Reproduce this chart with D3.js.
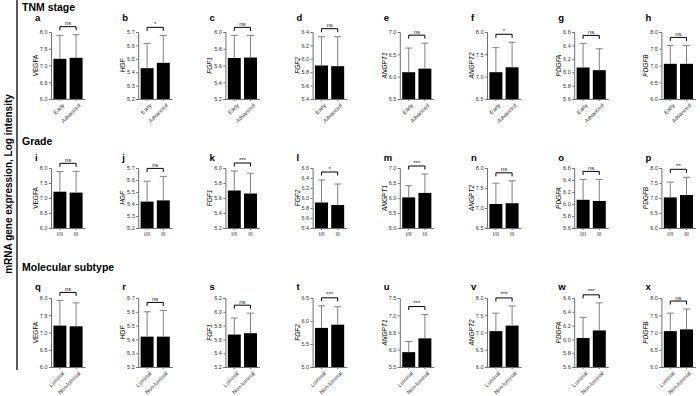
<!DOCTYPE html>
<html>
<head>
<meta charset="utf-8">
<script src="https://cdn.jsdelivr.net/npm/d3@7"></script>
<style>
  body { margin: 0; background: #fff; }
  svg { font-family: "Liberation Sans", Arial, sans-serif; }
  .tick text { fill: #333; }
</style>
</head>
<body>
<svg id="chart" width="700" height="396"></svg>
<script>
// Genes and panel letters
const genes = ["VEGFA", "HGF", "FGF1", "FGF2", "ANGPT1", "ANGPT2", "PDGFA", "PDGFB"];
const letters = ["abcdefgh", "ijklmnop", "qrstuvwx"];
const rowTitles = ["TNM stage", "Grade", "Molecular subtype"];

// Groups per row
const tnmGroups = ["Early", "Advanced"];
const gradeGroups = ["I/II", "III"];
const subGroups = ["Luminal", "Non-luminal"];

// Y domains: [min, max, tick step]
const tnmDomains = [[6, 8, 0.5], [5.2, 5.7, 0.1], [5.2, 6.0, 0.2], [5.4, 6.4, 0.2], [5.5, 7.0, 0.5], [6.5, 8.0, 0.5], [5.6, 6.6, 0.2], [6, 8, 0.5]];
const gradeDomains = [[6, 8, 0.5], [5.2, 5.7, 0.1], [5.2, 6.0, 0.2], [5.4, 6.6, 0.2], [5.0, 7.0, 0.5], [6.5, 8.0, 0.5], [5.6, 6.6, 0.2], [6, 8, 0.5]];
const subDomains = [[6, 8, 0.5], [5.2, 5.7, 0.1], [5.2, 6.2, 0.2], [5.0, 6.5, 0.5], [5.5, 7.5, 0.5], [6.0, 8.0, 0.5], [5.6, 6.6, 0.2], [6, 8, 0.5]];

// Means and top of error bars (mean + SD)
const tnmMean = [[7.2, 7.23], [5.43, 5.47], [5.69, 5.695], [5.9, 5.89], [6.1, 6.18], [7.1, 7.21], [6.07, 6.03], [7.05, 7.05]];
const tnmErr  = [[7.9, 7.92], [5.615, 5.675], [5.96, 5.96], [6.33, 6.33], [6.64, 6.75], [7.65, 7.77], [6.43, 6.35], [7.6, 7.6]];
const gradeMean = [[7.21, 7.18], [5.42, 5.43], [5.70, 5.66], [5.91, 5.86], [6.02, 6.17], [7.1, 7.12], [6.07, 6.05], [7.02, 7.1]];
const gradeErr  = [[7.88, 7.89], [5.59, 5.63], [5.96, 5.93], [6.36, 6.28], [6.41, 6.8], [7.62, 7.68], [6.41, 6.41], [7.53, 7.69]];
const subMean = [[7.2, 7.18], [5.42, 5.42], [5.67, 5.69], [5.85, 5.92], [5.93, 6.33], [7.04, 7.2], [6.02, 6.13], [7.04, 7.09]];
const subErr  = [[7.93, 7.86], [5.60, 5.61], [5.91, 5.98], [6.33, 6.31], [6.24, 7.02], [7.56, 7.77], [6.32, 6.53], [7.56, 7.68]];

// Significance labels
const tnmSig = ["ns", "*", "ns", "ns", "ns", "*", "ns", "ns"];
const gradeSig = ["ns", "ns", "***", "*", "***", "ns", "ns", "**"];
const subSig = ["ns", "ns", "ns", "***", "***", "***", "***", "ns"];

const rows = [
  {groups: tnmGroups, domains: tnmDomains, mean: tnmMean, err: tnmErr, sig: tnmSig, top: 32, bottom: 99, titleY: 11, letterY: 21, rotate: true},
  {groups: gradeGroups, domains: gradeDomains, mean: gradeMean, err: gradeErr, sig: gradeSig, top: 168, bottom: 228, titleY: 145, letterY: 161, rotate: false},
  {groups: subGroups, domains: subDomains, mean: subMean, err: subErr, sig: subSig, top: 298, bottom: 367, titleY: 271, letterY: 290, rotate: true}
];

const svg = d3.select("#chart");
const colX = i => 51 + i * 87.2;
const plotW = 34;
const axisColor = "#6e6e6e";
const errColor = "#808080";

// Left side label and separator line
svg.append("line")
    .attr("x1", 17).attr("x2", 17).attr("y1", 0).attr("y2", 370)
    .attr("stroke", "#000").attr("stroke-width", 1.3);
svg.append("text")
    .attr("transform", "translate(12,184) rotate(-90)")
    .attr("text-anchor", "middle")
    .attr("font-size", 10).attr("font-weight", "bold")
    .text("mRNA gene expression, Log intensity");

rows.forEach((row, r) => {
  svg.append("text")
      .attr("x", 22).attr("y", row.titleY)
      .attr("font-size", 10.5).attr("font-weight", "bold")
      .text(rowTitles[r]);

  genes.forEach((gene, i) => {
    const x0 = colX(i);
    const [dMin, dMax, step] = row.domains[i];
    const g = svg.append("g");

    const y = d3.scaleLinear().domain([dMin, dMax]).range([row.bottom, row.top]);
    const x = d3.scaleBand().domain(row.groups).range([x0, x0 + plotW])
        .paddingInner(0.2).paddingOuter(0.15);

    const vals = row.groups.map((k, j) => ({k, m: row.mean[i][j], e: row.err[i][j]}));

    // Panel letter
    g.append("text")
        .attr("x", x0 - 16).attr("y", row.letterY)
        .attr("font-size", 9.5).attr("font-weight", "bold")
        .text(letters[r][i]);

    // Gene label
    g.append("text")
        .attr("transform", `translate(${x0 - 13},${(row.top + row.bottom) / 2}) rotate(-90)`)
        .attr("text-anchor", "middle")
        .attr("font-size", 6.5)
        .attr("font-style", gene === "VEGFA" ? "normal" : "italic")
        .text(gene);

    // Bars
    g.selectAll(".bar").data(vals).enter().append("rect")
        .attr("x", d => x(d.k))
        .attr("y", d => y(d.m))
        .attr("width", x.bandwidth())
        .attr("height", d => y(dMin) - y(d.m))
        .attr("fill", "#000");

    // Error bars (upper only)
    const cx = d => x(d.k) + x.bandwidth() / 2;
    g.selectAll(".err").data(vals).enter().append("line")
        .attr("x1", cx).attr("x2", cx)
        .attr("y1", d => y(d.m)).attr("y2", d => y(d.e))
        .attr("stroke", errColor).attr("stroke-width", 1);
    g.selectAll(".cap").data(vals).enter().append("line")
        .attr("x1", d => cx(d) - 3.5).attr("x2", d => cx(d) + 3.5)
        .attr("y1", d => y(d.e)).attr("y2", d => y(d.e))
        .attr("stroke", errColor).attr("stroke-width", 1);

    // Y axis
    const ticks = d3.range(dMin, dMax + step / 2, step);
    const ya = g.append("g")
        .attr("transform", `translate(${x0},0)`)
        .call(d3.axisLeft(y).tickValues(ticks).tickFormat(d3.format(".1f")).tickSize(2).tickPadding(1.5));
    ya.select(".domain").attr("stroke", axisColor);
    ya.selectAll(".tick line").attr("stroke", axisColor);
    ya.selectAll(".tick text").attr("font-size", 5.5);

    // X axis
    const xa = g.append("g")
        .attr("transform", `translate(0,${row.bottom})`)
        .call(d3.axisBottom(x).tickSize(2).tickSizeOuter(0).tickPadding(2));
    xa.select(".domain").attr("stroke", axisColor);
    xa.selectAll(".tick line").attr("stroke", axisColor);
    const xt = xa.selectAll(".tick text").attr("font-size", 5.5);
    if (row.rotate) {
      xt.attr("text-anchor", "end")
        .attr("dy", null)
        .attr("transform", "translate(2,4) rotate(-45)");
    }

    // Significance bracket
    const by = y(d3.max(vals, d => d.e)) - 8;
    const bx1 = cx(vals[0]), bx2 = cx(vals[1]);
    g.append("path")
        .attr("d", `M${bx1},${by + 3.5}V${by}H${bx2}V${by + 3.5}`)
        .attr("fill", "none").attr("stroke", "#000").attr("stroke-width", 1);
    g.append("text")
        .attr("x", (bx1 + bx2) / 2).attr("y", by - 1.5)
        .attr("text-anchor", "middle").attr("font-size", 6)
        .attr("fill", "#222")
        .text(row.sig[i]);
  });
});
</script>
</body>
</html>
